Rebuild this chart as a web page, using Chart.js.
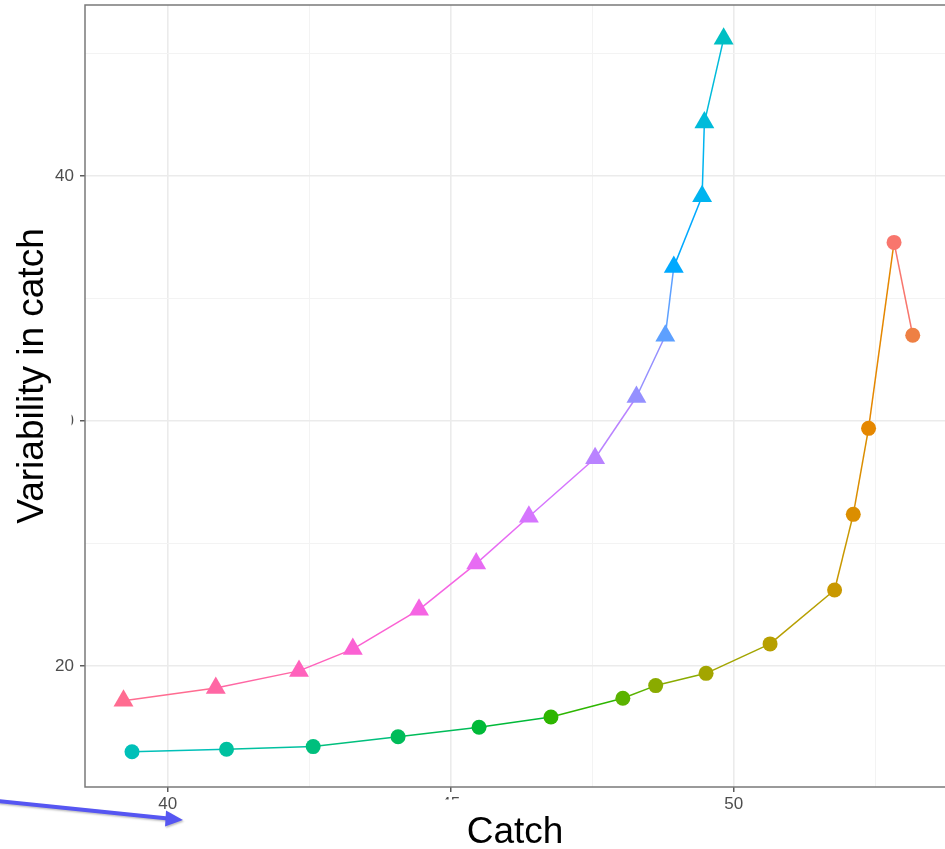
<!DOCTYPE html>
<html>
<head>
<meta charset="utf-8">
<script src="https://cdn.jsdelivr.net/npm/chart.js@4.4.1/dist/chart.umd.min.js"></script>
<style>
  html, body { margin: 0; padding: 0; background: #fff; }
  #wrap { width: 945px; height: 849px; position: relative; }
</style>
</head>
<body>
<div id="wrap"><canvas id="chart"></canvas></div>
<script>
// ── Data ──
const triCatch  = [39.22, 40.85, 42.32, 43.27, 44.44, 45.45, 46.38, 47.55, 48.28, 48.79, 48.94, 49.44, 49.48, 49.82];
const triVar    = [18.58, 19.10, 19.80, 20.69, 22.30, 24.18, 26.09, 28.48, 30.98, 33.48, 36.29, 39.17, 42.18, 45.60];

const circCatch = [39.37, 41.04, 42.57, 44.07, 45.50, 46.77, 48.04, 48.62, 49.51, 50.64, 51.78, 52.11, 52.38, 52.83, 53.16];
const circVar   = [16.50, 16.60, 16.71, 17.11, 17.50, 17.92, 18.68, 19.20, 19.70, 20.90, 23.10, 26.19, 29.70, 37.29, 33.50];

const xMajor = [40, 45, 50];
const yMajor = [20, 30, 40];

const xTitle = 'Catch';
const yTitle = 'Variability in catch';

// ── Point colours (hue scale) ──
const triColors  = ['#FF6C91', '#FF67A4', '#FF62BC', '#FB61D3', '#F564E3', '#E76BF3', '#D575FE',
                    '#B983FF', '#9590FF', '#5DA0FF', '#00A9FF', '#00B4F0', '#00BBDA', '#00BFC4'];
const circColors = ['#00C0B8', '#00C1A0', '#00BF7D', '#00BC59', '#00BA38', '#2DB600', '#5BB300',
                    '#8AAB00', '#A3A500', '#B79F00', '#C99800', '#DB8E00', '#E58700', '#F8766D', '#EE8044'];

const toPoints = (xs, ys) => xs.map((x, i) => ({ x, y: ys[i] }));
const isMajor = (list, v) => list.some(m => Math.abs(m - v) < 1e-6);

const font = 'Liberation Sans, Arial, sans-serif';

// ── Panel border, y title, arrow and label covers ──
const overlay = {
  id: 'overlay',
  afterDraw(chart) {
    const { ctx, chartArea: a } = chart;
    ctx.save();
    ctx.strokeStyle = '#7a7a7a';
    ctx.lineWidth = 1.5;
    ctx.beginPath();
    ctx.moveTo(a.right + 2, a.top);
    ctx.lineTo(a.left, a.top);
    ctx.lineTo(a.left, a.bottom);
    ctx.lineTo(a.right + 2, a.bottom);
    ctx.stroke();

    // y axis title
    ctx.save();
    ctx.translate(43, 376);
    ctx.rotate(-Math.PI / 2);
    ctx.fillStyle = '#000000';
    ctx.font = `37px ${font}`;
    ctx.textAlign = 'center';
    ctx.textBaseline = 'alphabetic';
    ctx.fillText(yTitle, 0, 0);
    ctx.restore();

    // partly hidden tick labels
    ctx.fillStyle = '#ffffff';
    ctx.fillRect(46, 408, 25.5, 26);
    ctx.fillRect(436, 799.5, 32, 17);

    // blue arrow
    ctx.shadowColor = 'rgba(0,0,0,0.25)';
    ctx.shadowBlur = 2;
    ctx.shadowOffsetX = 1;
    ctx.shadowOffsetY = 1.5;
    ctx.strokeStyle = '#5656F2';
    ctx.fillStyle = '#5656F2';
    ctx.lineWidth = 4;
    ctx.beginPath();
    ctx.moveTo(-2, 801);
    ctx.lineTo(168, 818.5);
    ctx.stroke();
    ctx.beginPath();
    ctx.moveTo(183, 820);
    ctx.lineTo(166, 810.5);
    ctx.lineTo(165, 826.5);
    ctx.closePath();
    ctx.fill();
    ctx.restore();
  }
};

new Chart(document.getElementById('chart'), {
  type: 'scatter',
  data: {
    datasets: [
      {
        data: toPoints(triCatch, triVar),
        showLine: true,
        pointStyle: 'triangle',
        pointRadius: 11.5,
        pointBorderWidth: 0,
        pointBackgroundColor: triColors,
        borderWidth: 1.5,
        segment: { borderColor: c => triColors[c.p0DataIndex] },
      },
      {
        data: toPoints(circCatch, circVar),
        showLine: true,
        pointStyle: 'circle',
        pointRadius: 7.5,
        pointBorderWidth: 0,
        pointBackgroundColor: circColors,
        borderWidth: 1.5,
        segment: { borderColor: c => circColors[c.p0DataIndex] },
      },
    ],
  },
  options: {
    responsive: true,
    maintainAspectRatio: false,
    animation: false,
    layout: { autoPadding: false, padding: { top: 5, right: 0, left: 0, bottom: 0 } },
    plugins: { legend: { display: false }, tooltip: { enabled: false } },
    scales: {
      x: {
        type: 'linear',
        min: 38.54,
        max: 53.73,
        afterFit: s => { s.height = 62; s.paddingLeft = 0; s.paddingRight = 0; },
        border: { display: false },
        grid: {
          color: c => isMajor(xMajor, c.tick.value) ? '#EBEBEB' : '#F3F3F3',
          lineWidth: c => isMajor(xMajor, c.tick.value) ? 1.6 : 1,
          tickColor: c => isMajor(xMajor, c.tick.value) ? '#333333' : 'rgba(0,0,0,0)',
          tickLength: 5,
          tickWidth: 1.2,
        },
        ticks: {
          stepSize: 2.5,
          includeBounds: false,
          autoSkip: false,
          maxRotation: 0,
          padding: 2,
          color: '#4D4D4D',
          font: { family: font, size: 17 },
          callback: v => isMajor(xMajor, v) ? String(v) : '',
        },
        title: {
          display: true,
          text: xTitle,
          color: '#000000',
          font: { family: font, size: 37, lineHeight: 0.9 },
          padding: { top: 0, bottom: 0 },
        },
      },
      y: {
        type: 'linear',
        min: 15.06,
        max: 46.98,
        afterFit: s => { s.width = 85; s.paddingTop = 0; s.paddingBottom = 0; },
        border: { display: false },
        grid: {
          color: c => isMajor(yMajor, c.tick.value) ? '#EBEBEB' : '#F3F3F3',
          lineWidth: c => isMajor(yMajor, c.tick.value) ? 1.6 : 1,
          tickColor: c => isMajor(yMajor, c.tick.value) ? '#333333' : 'rgba(0,0,0,0)',
          tickLength: 5,
          tickWidth: 1.2,
        },
        ticks: {
          stepSize: 5,
          includeBounds: false,
          autoSkip: false,
          padding: 6,
          color: '#4D4D4D',
          font: { family: font, size: 17 },
          callback: v => isMajor(yMajor, v) ? String(v) : '',
        },
        title: { display: false },
      },
    },
  },
  plugins: [overlay],
});
</script>
</body>
</html>
